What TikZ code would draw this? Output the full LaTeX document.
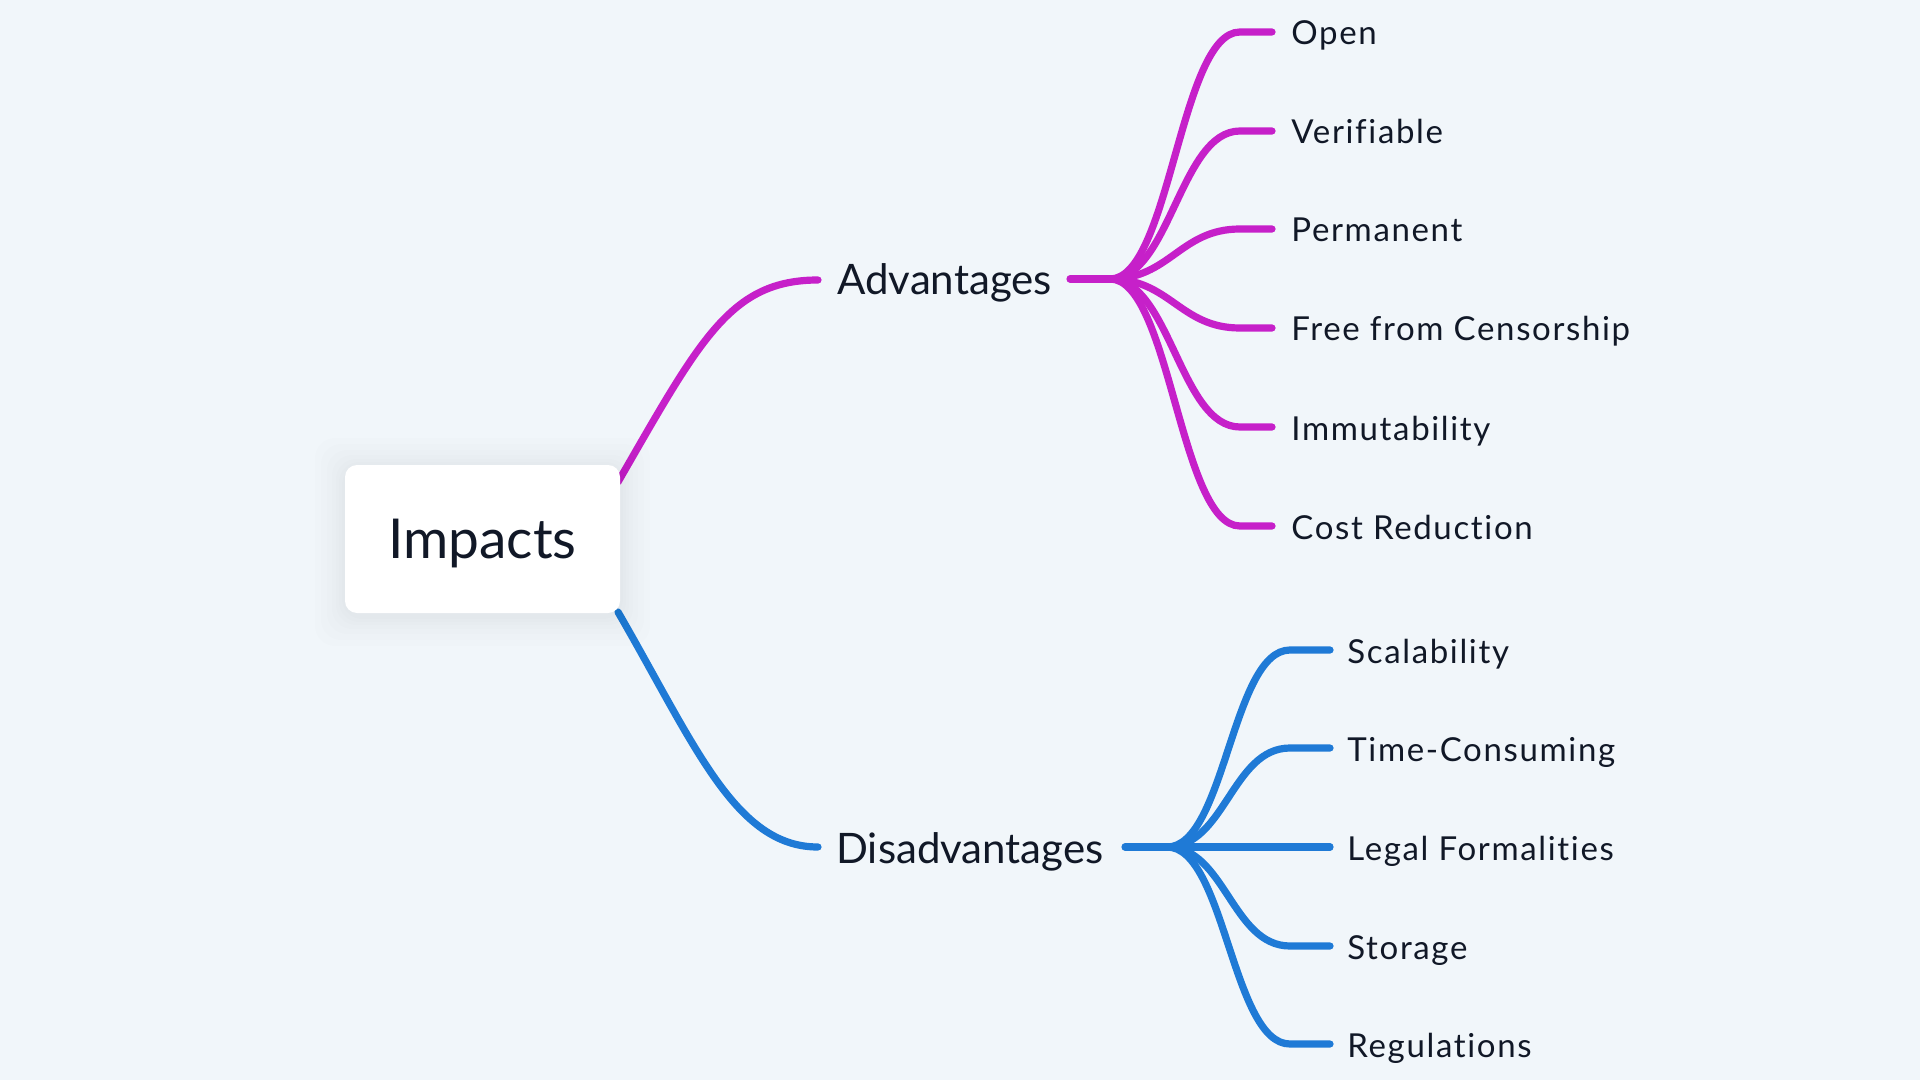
\documentclass[tikz,border=0pt]{standalone}
\usepackage{fontspec}
\setmainfont{Lato}[Ligatures={NoCommon}]
\newfontfamily\leaffont{Lato}[Ligatures={NoCommon},LetterSpace=5]
\definecolor{bg}{HTML}{F1F6FA}
\definecolor{advc}{HTML}{C620C9}
\definecolor{disc}{HTML}{1F7AD6}
\definecolor{ink}{HTML}{111827}
\tikzset{
  advline/.style={draw=advc, line width=3.6pt, line cap=round},
  disline/.style={draw=disc, line width=3.6pt, line cap=round},
  leaf/.style={text=ink, inner sep=0pt, anchor=base west, font=\leaffont\fontsize{16.5}{18}\selectfont},
  branch/.style={text=ink, inner sep=0pt, anchor=base west, font=\fontsize{21}{24}\selectfont},
  rootbox/.style={fill=white, rounded corners=6pt, minimum width=137.5pt, minimum height=74pt, inner sep=0pt, text=ink},
}
\begin{document}
\begin{tikzpicture}[x=0.5pt,y=-0.5pt]
\fill[bg] (0,0) rectangle (1920,1080);
\useasboundingbox (0,0) rectangle (1920,1080);

% endpoints
\coordinate (impA) at (618,482);
\coordinate (impD) at (618,612);
\coordinate (advL) at (818,280);
\coordinate (advR) at (1070,279);
\coordinate (advF) at (1110,279);
\coordinate (disL) at (818,847);
\coordinate (disR) at (1125,847);
\coordinate (disF) at (1167,847);

% main curves
\draw[advline] (impA) .. controls (700,340) and (730,280) .. (advL);
\draw[disline] (impD) .. controls (695,745) and (735,847) .. (disL);

% soft shadow of root box
\foreach \s in {30,24,18,13,9,6,3}{
  \fill[black, opacity=0.008, rounded corners=10pt] (345-\s,465-\s+3) rectangle (620+\s,613+\s+3);
}
\node[rootbox] (impacts) at (482.5,539) {};
\node[text=ink, inner sep=0pt, anchor=base, font=\fontsize{27.5}{30}\selectfont] (imptext) at (482.5,558) {Impacts};

\node[branch] (adv) at (837,295) {Advantages};
\node[branch] (dis) at (836,863) {Disadvantages};

\draw[advline] (advR) -- (advF);
\draw[disline] (disR) -- (disF);

% advantages leaves
\foreach \n/\y/\t in {open/32/Open, ver/131/Verifiable, per/229/Permanent, free/328/Free from Censorship, imm/427/Immutability, cost/526/Cost Reduction}{
  \coordinate (\n E) at (1272,\y);
  \coordinate (\n C) at (1240,\y);
  \node[leaf] (\n) at (1291,\y+13) {\t};
  \draw[advline] (advF) .. controls (1170,279) and (1180,\y) .. (\n C) -- (\n E);
}

% disadvantages leaves
\foreach \n/\y/\t in {sca/650/Scalability, tim/748/Time-Consuming, sto/946/Storage, reg/1044/Regulations}{
  \coordinate (\n E) at (1330,\y);
  \coordinate (\n C) at (1290,\y);
  \node[leaf] (\n) at (1347,\y+13) {\t};
  \draw[disline] (disF) .. controls (1225,847) and (1232,\y) .. (\n C) -- (\n E);
}
\coordinate (legE) at (1330,847);
\node[leaf] (leg) at (1347,860) {Legal Formalities};
\draw[disline] (disF) -- (legE);
\end{tikzpicture}
\end{document}
